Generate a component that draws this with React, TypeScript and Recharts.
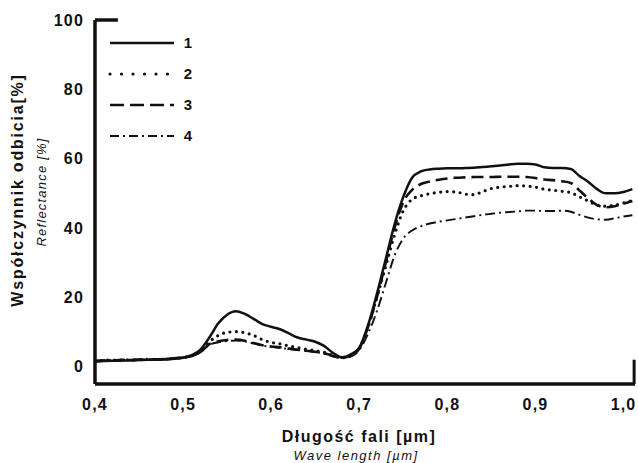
import { LineChart, Line, XAxis, YAxis, Legend, ReferenceLine } from "recharts";

// wavelength in µm
const wavelength = [
  0.4, 0.41, 0.42, 0.43, 0.44, 0.45, 0.46, 0.47, 0.48, 0.49,
  0.5, 0.51, 0.52, 0.53, 0.54, 0.55, 0.56, 0.57, 0.58, 0.59,
  0.6, 0.61, 0.62, 0.63, 0.64, 0.65, 0.66, 0.67, 0.68, 0.69,
  0.7, 0.71, 0.72, 0.73, 0.74, 0.75, 0.76, 0.77, 0.78, 0.79,
  0.8, 0.81, 0.82, 0.83, 0.84, 0.85, 0.86, 0.87, 0.88, 0.89,
  0.9, 0.91, 0.92, 0.93, 0.94, 0.95, 0.96, 0.97, 0.98, 0.99,
  1.0, 1.01,
];

const series1 = [
  1.5, 1.6, 1.7, 1.8, 1.8, 1.9, 2.0, 2.0, 2.1, 2.3,
  2.6, 3.3, 5.0, 8.5, 12.5, 15.0, 16.0, 15.2, 13.8, 12.3,
  11.5, 10.8, 9.6, 8.4, 7.8, 7.2, 6.0, 4.0, 2.7, 3.5,
  5.5, 12, 21, 31, 41, 49, 54.5, 56.3, 56.9, 57.1,
  57.2, 57.2, 57.3, 57.4, 57.6, 57.8, 58.0, 58.3, 58.5, 58.5,
  58.3, 57.5, 57.3, 57.3, 57.0, 55.0, 53.3, 51.2, 50.0, 50.0,
  50.4, 51.2,
];

const series2 = [
  1.7, 1.8, 1.9, 1.9, 2.0, 2.0, 2.1, 2.1, 2.2, 2.4,
  2.6, 3.2, 4.5, 7.2, 9.0, 9.9, 10.1, 9.8, 9.0, 7.8,
  7.0, 6.6, 6.0, 5.5, 5.0, 4.6, 4.2, 3.3, 2.6, 3.2,
  5.3, 11.5, 20, 29, 38, 45, 48.3, 49.3, 49.9, 50.3,
  50.5, 50.4, 49.8, 49.6, 50.5, 51.4, 51.8, 52.0, 52.2, 52.1,
  51.8, 51.2, 50.9, 50.6, 50.2, 49.0, 47.8, 46.6, 46.3, 46.6,
  47.2, 48.0,
];

const series3 = [
  1.6, 1.7, 1.8, 1.9, 1.9, 2.0, 2.0, 2.1, 2.2, 2.4,
  2.6, 3.1, 4.3, 6.5, 7.3, 7.7, 7.8, 7.5, 6.8, 6.2,
  5.8, 5.6, 5.2, 4.9, 4.6, 4.3, 3.9, 3.1, 2.6, 3.1,
  5.2, 11.5, 20, 30, 40, 47.5, 51, 52.7, 53.4, 53.9,
  54.3, 54.5, 54.6, 54.7, 54.7, 54.7, 54.8, 54.8, 54.8, 54.7,
  54.4, 54.0, 53.8, 53.5, 53.0, 50.8, 48.5, 46.6, 46.0, 46.3,
  47.0, 47.8,
];

const series4 = [
  1.8, 1.9, 1.9, 2.0, 2.0, 2.1, 2.1, 2.2, 2.3, 2.5,
  2.7, 3.1, 4.2, 6.3, 7.0, 7.4, 7.5, 7.3, 6.7, 6.1,
  5.7, 5.4, 5.1, 4.8, 4.5, 4.2, 3.8, 3.0, 2.5, 2.9,
  4.8, 9.5, 16, 24, 32, 37, 39.3, 40.5, 41.3, 41.8,
  42.2, 42.6, 43.0, 43.4, 43.8, 44.1, 44.4, 44.6, 44.8, 45.0,
  45.0, 44.9, 44.9, 45.0, 44.7, 43.8, 43.0, 42.5, 42.4, 42.8,
  43.3, 43.7,
];

const xTicks = [0.4, 0.5, 0.6, 0.7, 0.8, 0.9, 1.0];
const yTicks = [0, 20, 40, 60, 80, 100];
const seriesNames = ["1", "2", "3", "4"];

const data = wavelength.map((w, i) => ({
  w,
  s1: series1[i],
  s2: series2[i],
  s3: series3[i],
  s4: series4[i],
}));

const FONT = "'Liberation Sans', Arial, sans-serif";
const INK = "#111";

// line look per series (chart and legend use slightly different dot spacing)
const styles: Record<string, { width: number; dash?: string; legendDash?: string; cap?: "round" | "butt" }> = {
  s1: { width: 2.5 },
  s2: { width: 3.2, dash: "0 6.5", legendDash: "0 11.5", cap: "round" },
  s3: { width: 2.6, dash: "12 6", legendDash: "14 6" },
  s4: { width: 1.9, dash: "10 4 2 4", legendDash: "9 4 2 4" },
};

const fmt = (v: number) => v.toFixed(1).replace(".", ",");

const LegendBox = ({ payload }: any) => (
  <svg width={110} height={125}>
    {(payload || []).map((p: any, i: number) => {
      const st = styles[p.dataKey];
      const y = 13 + i * 31;
      return (
        <g key={p.dataKey}>
          <line
            x1={3}
            x2={67}
            y1={y}
            y2={y}
            stroke={INK}
            strokeWidth={st.width}
            strokeDasharray={st.legendDash}
            strokeLinecap={st.cap || "butt"}
          />
          <text x={81} y={y + 5} textAnchor="middle" fontFamily={FONT} fontWeight="bold" fontSize={15} fill={INK}>
            {p.value}
          </text>
        </g>
      );
    })}
  </svg>
);

export default function App() {
  const tickStyle = { fontFamily: FONT, fontWeight: "bold" as const, fontSize: 16, fill: INK, letterSpacing: 1.2 };
  return (
    <div style={{ position: "absolute", left: 0, top: 0, width: 638, height: 463, background: "#fff" }}>
      <LineChart width={638} height={463} data={data} margin={{ top: 20, right: 3, left: 0, bottom: 49 }}>
        <XAxis
          dataKey="w"
          type="number"
          domain={[0.4, 1.013]}
          ticks={xTicks}
          tickFormatter={fmt}
          tickLine={false}
          tickSize={6}
          tickMargin={9}
          height={30}
          axisLine={{ stroke: INK, strokeWidth: 3.5 }}
          tick={tickStyle}
          allowDataOverflow
        />
        <YAxis
          type="number"
          domain={[-5, 100]}
          ticks={yTicks}
          tickLine={false}
          tickSize={6}
          tickMargin={5}
          width={95}
          axisLine={{ stroke: INK, strokeWidth: 3.5 }}
          tick={tickStyle}
          allowDataOverflow
        />
        <ReferenceLine
          segment={[{ x: 0.4, y: 100 }, { x: 0.426, y: 100 }]}
          stroke={INK}
          strokeWidth={3.5}
          ifOverflow="visible"
        />
        <ReferenceLine
          segment={[{ x: 1.012, y: -5 }, { x: 1.012, y: 2 }]}
          stroke={INK}
          strokeWidth={3}
          ifOverflow="visible"
        />
        {["s1", "s2", "s3", "s4"].map((k, i) => (
          <Line
            key={k}
            dataKey={k}
            name={seriesNames[i]}
            type="monotone"
            stroke={INK}
            strokeWidth={styles[k].width}
            strokeDasharray={styles[k].dash}
            strokeLinecap={styles[k].cap || "butt"}
            dot={false}
            activeDot={false}
            isAnimationActive={false}
          />
        ))}
        <Legend
          layout="vertical"
          align="center"
          verticalAlign="middle"
          content={<LegendBox />}
          wrapperStyle={{ position: "absolute", left: 107, top: 30, width: 110, height: 125 }}
        />
      </LineChart>
      <svg width={638} height={463} style={{ position: "absolute", left: 0, top: 0, pointerEvents: "none" }}>
        <text
          transform="translate(23,190) rotate(-90)"
          textAnchor="middle"
          fontFamily={FONT}
          fontWeight="bold"
          fontSize={16}
          letterSpacing={1.8}
          fill={INK}
        >
          Współczynnik odbicia[%]
        </text>
        <text
          transform="translate(46,192) rotate(-90)"
          textAnchor="middle"
          fontFamily={FONT}
          fontStyle="italic"
          fontSize={13}
          letterSpacing={1.2}
          fill={INK}
        >
          Reflectance [%]
        </text>
        <text x={359} y={442} textAnchor="middle" fontFamily={FONT} fontWeight="bold" fontSize={16} letterSpacing={1.5} fill={INK}>
          Długość fali [µm]
        </text>
        <text x={356} y={460} textAnchor="middle" fontFamily={FONT} fontStyle="italic" fontSize={13} letterSpacing={1.5} fill={INK}>
          Wave length [µm]
        </text>
      </svg>
    </div>
  );
}
